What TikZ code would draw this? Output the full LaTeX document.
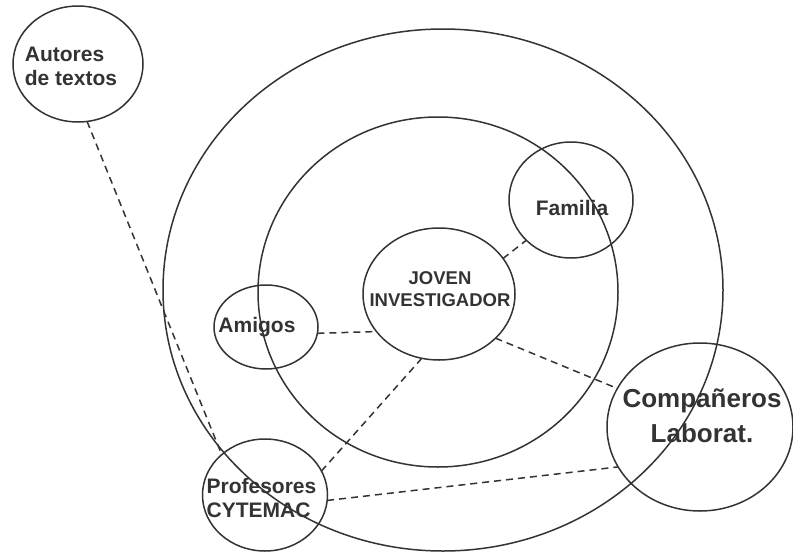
\documentclass[tikz,border=0pt]{standalone}
\usepackage{fontspec}
\setmainfont{Liberation Sans}
\usetikzlibrary{shapes.geometric}
\definecolor{ink}{RGB}{51,51,51}
\begin{document}
\begin{tikzpicture}[x=1pt,y=-1pt,
  ring/.style={ellipse,draw=ink,line width=1.5pt,inner sep=0pt,outer sep=0pt},
  lbl/.style={text=ink,font=\bfseries\fontsize{21}{24}\selectfont,inner sep=0pt},
  link/.style={draw=ink,line width=1.5pt,dash pattern=on 7pt off 5pt}]
\useasboundingbox (0,0) rectangle (793,552);
% circles
\node[ring,minimum width=560pt,minimum height=522pt] (outer) at (443,290) {};
\node[ring,minimum width=360pt,minimum height=350pt] (mid) at (438,292) {};
\node[ring,minimum width=152pt,minimum height=132pt] (jov) at (439,294) {};
\node[ring,minimum width=124pt,minimum height=116pt] (fam) at (571,200) {};
\node[ring,minimum width=104pt,minimum height=84pt] (ami) at (266,327) {};
\node[ring,minimum width=130pt,minimum height=116pt] (aut) at (78,64) {};
\node[ring,minimum width=125pt,minimum height=112pt] (prof) at (265,495) {};
\node[ring,minimum width=186pt,minimum height=168pt] (comp) at (700,427) {};
% labels
\node[lbl,align=left] (tAut) at (71,66) {Autores\\de textos};
\node[lbl] (tFam) at (572,208) {Familia};
\node[lbl] (tAmi) at (257,327.5) {Amigos};
\node[lbl,align=center,font=\bfseries\fontsize{18.5}{22}\selectfont] (tJov) at (440,289.5) {JOVEN\\INVESTIGADOR};
\node[lbl,align=left] (tProf) at (261.5,498) {Profesores\\CYTEMAC};
\node[lbl,align=center,font=\bfseries\fontsize{26}{35}\selectfont] (tComp) at (702,416) {Compañeros\\Laborat.};
% connectors
\draw[link] (aut.279) -- (prof.137);
\draw[link] (ami.-7) -- (jov.211);
\draw[link] (jov.29) -- (fam.222);
\draw[link] (jov.255) -- (prof.23);
\draw[link] (jov.322) -- (comp.155);
\draw[link] (prof.-5) -- (comp.206);
\end{tikzpicture}
\end{document}
